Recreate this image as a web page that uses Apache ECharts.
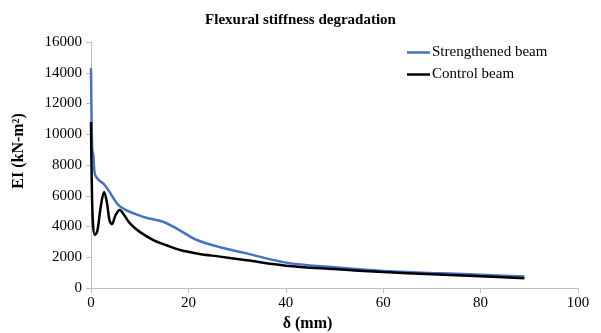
<!DOCTYPE html>
<html>
<head>
<meta charset="utf-8">
<script src="https://cdn.jsdelivr.net/npm/echarts@6/dist/echarts.min.js"></script>
<style>
html,body{margin:0;padding:0;background:#fff;}
#chart{width:601px;height:333px;}
</style>
</head>
<body>
<div id="chart"></div>
<script>
// Deflection δ (mm) vs flexural stiffness EI (kN-m²)
var strengthenedX = [0, 0.1, 0.25, 0.45, 0.8, 1.5, 2.5, 3.5, 4.5, 5.6, 7, 8.7, 11, 14.8, 16.9, 19, 21.7, 26.5, 32, 40, 50, 60, 70, 80, 89];
var strengthenedEI = [14300, 11500, 9000, 8700, 7400, 7050, 6800, 6400, 5900, 5400, 5100, 4860, 4600, 4310, 3990, 3600, 3120, 2650, 2250, 1650, 1350, 1110, 980, 860, 740];

var controlX = [0, 0.15, 0.4, 0.8, 1.3, 2.0, 2.7, 3.3, 3.8, 4.3, 5.0, 5.9, 6.8, 8.0, 10, 12.8, 15.5, 18.3, 22, 26.5, 32, 40, 50, 60, 70, 80, 89];
var controlEI = [10800, 7000, 4200, 3450, 3700, 5300, 6250, 5500, 4400, 4150, 4700, 5070, 4750, 4200, 3650, 3120, 2780, 2470, 2230, 2040, 1800, 1450, 1230, 1040, 900, 760, 640];

var yTicks = [0, 2000, 4000, 6000, 8000, 10000, 12000, 14000, 16000];
var xTicks = [0, 20, 40, 60, 80, 100];

function pairs(xs, ys) { return xs.map(function (x, i) { return [x, ys[i]]; }); }

var serif = '"Liberation Serif", "Times New Roman", serif';
var axisGray = '#bfbfbf';

var chart = echarts.init(document.getElementById('chart'));
chart.setOption({
  animation: false,
  title: {
    text: 'Flexural stiffness degradation',
    left: 'center',
    top: 8,
    textStyle: { fontFamily: serif, fontWeight: 'bold', fontSize: 15, color: '#000' }
  },
  legend: {
    orient: 'vertical',
    left: 402,
    top: 40,
    itemGap: 7,
    itemWidth: 23,
    itemHeight: 2.5,
    icon: 'rect',
    textStyle: { fontFamily: serif, fontSize: 15, color: '#000', padding: [0, 0, 0, -3] },
    data: ['Strengthened beam', 'Control beam']
  },
  grid: { left: 91, right: 23, top: 42, bottom: 45, containLabel: false, outerBoundsMode: 'none' },
  xAxis: {
    type: 'value',
    min: xTicks[0],
    max: xTicks[xTicks.length - 1],
    interval: 20,
    name: 'δ (mm)',
    nameLocation: 'middle',
    nameGap: 26,
    nameTextStyle: { fontFamily: serif, fontWeight: 'bold', fontSize: 16, color: '#000', padding: [0, 54, 0, 0] },
    axisLine: { lineStyle: { color: axisGray, width: 1 } },
    axisTick: { show: true, length: 5, lineStyle: { color: axisGray } },
    axisLabel: { fontFamily: serif, fontSize: 15, color: '#000', margin: 8 },
    splitLine: { show: false }
  },
  yAxis: {
    type: 'value',
    min: yTicks[0],
    max: yTicks[yTicks.length - 1],
    interval: 2000,
    name: 'EI (kN-m²)',
    nameLocation: 'middle',
    nameGap: 64,
    nameRotate: 90,
    nameTextStyle: { fontFamily: serif, fontWeight: 'bold', fontSize: 16, color: '#000', padding: [0, 0, 0, 28] },
    axisLine: { show: true, lineStyle: { color: axisGray, width: 1 } },
    axisTick: { show: true, length: 5, lineStyle: { color: axisGray } },
    axisLabel: {
      fontFamily: serif, fontSize: 15, color: '#000', margin: 9,
      formatter: function (v) { return String(v); }
    },
    splitLine: { show: false }
  },
  series: [
    {
      name: 'Strengthened beam',
      type: 'line',
      data: pairs(strengthenedX, strengthenedEI),
      smooth: 0.35,
      symbol: 'none',
      itemStyle: { color: '#4472C4' },
      lineStyle: { color: '#4472C4', width: 2.5 }
    },
    {
      name: 'Control beam',
      type: 'line',
      data: pairs(controlX, controlEI),
      smooth: 0.35,
      symbol: 'none',
      itemStyle: { color: '#000' },
      lineStyle: { color: '#000', width: 2.5 }
    }
  ]
});
</script>
</body>
</html>
